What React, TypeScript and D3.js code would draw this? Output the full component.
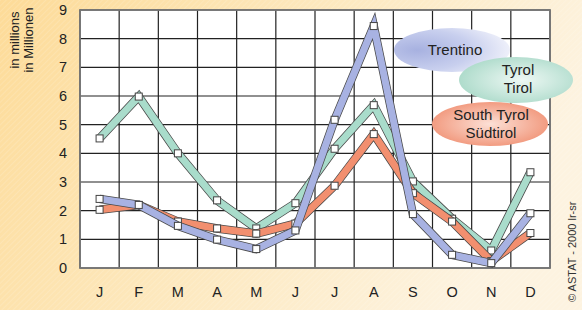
import React from 'react';
import * as d3 from 'd3';

const months = ['J', 'F', 'M', 'A', 'M', 'J', 'J', 'A', 'S', 'O', 'N', 'D'];
const yTicks = [0, 1, 2, 3, 4, 5, 6, 7, 8, 9];

// visitor nights, millions
const tyrol = [4.52, 5.98, 4.0, 2.36, 1.38, 2.26, 4.16, 5.68, 3.02, 1.72, 0.61, 3.34];
const southTyrol = [2.03, 2.2, 1.62, 1.38, 1.2, 1.55, 2.87, 4.67, 2.61, 1.62, 0.24, 1.22];
const trentino = [2.41, 2.2, 1.47, 0.99, 0.66, 1.31, 5.17, 8.44, 1.88, 0.46, 0.17, 1.91];

const seriesList = [
  {name: 'tyrol', values: tyrol, fill: '#a9dccb'},
  {name: 'south', values: southTyrol, fill: '#f28f6f'},
  {name: 'trentino', values: trentino, fill: '#a8b2e2'},
];

export default function App() {
  const W = 582;
  const H = 310;
  const left = 80, right = 550, top = 10, bottom = 268;

  const x = d3.scaleBand<number>().domain(d3.range(12)).range([left, right]);
  const y = d3.scaleLinear().domain([0, 9]).range([bottom, top]);
  const cx = (i: number) => (x(i) as number) + x.bandwidth() / 2;

  const line = d3
    .line<number>()
    .x((_, i) => cx(i))
    .y((d) => y(d));

  const font = 'Liberation Sans, Arial, sans-serif';

  return (
    <svg width={W} height={H} style={{position: 'absolute', left: 0, top: 0}}>
      <defs>
        <linearGradient id="bg" x1="0" y1="0" x2="1" y2="0.3">
          <stop offset="0" stopColor="#fddb98" />
          <stop offset="0.5" stopColor="#fde8bd" />
          <stop offset="1" stopColor="#fdf3e0" />
        </linearGradient>
        <pattern id="hatch" width="4" height="4" patternUnits="userSpaceOnUse" patternTransform="rotate(45)">
          <line x1="0" y1="0" x2="0" y2="4" stroke="#ffffff" strokeOpacity="0.18" strokeWidth="1.5" />
        </pattern>
        <radialGradient id="gTrentino" cx="0.2" cy="0.5" r="0.85">
          <stop offset="0" stopColor="#a7b1e0" />
          <stop offset="0.55" stopColor="#c8cfee" />
          <stop offset="1" stopColor="#f4f5fc" />
        </radialGradient>
        <radialGradient id="gTyrol" cx="0.55" cy="0.5" r="0.6">
          <stop offset="0" stopColor="#eef8f4" />
          <stop offset="1" stopColor="#a9d9c8" />
        </radialGradient>
        <radialGradient id="gSouth" cx="0.5" cy="0.5" r="0.6">
          <stop offset="0" stopColor="#fce0d6" />
          <stop offset="1" stopColor="#f08e70" />
        </radialGradient>
      </defs>

      <rect x={0} y={0} width={W} height={H} fill="url(#bg)" />
      <rect x={0} y={0} width={W} height={H} fill="url(#hatch)" />

      {/* plot area */}
      <rect x={left} y={top} width={right - left} height={bottom - top} fill="#ffffff" />
      {yTicks.map((t) => (
        <line key={'h' + t} x1={left} x2={right} y1={y(t)} y2={y(t)} stroke="#222" strokeWidth={1.2} />
      ))}
      {d3.range(13).map((i) => {
        const xx = i < 12 ? (x(i) as number) : right;
        return <line key={'v' + i} x1={xx} x2={xx} y1={top} y2={bottom} stroke="#222" strokeWidth={1.2} />;
      })}
      <rect x={left} y={top} width={right - left} height={bottom - top} fill="none" stroke="#777" strokeWidth={1.8} />

      {yTicks.map((t) => (
        <text key={'yl' + t} x={67} y={y(t) + 5} textAnchor="end" fontFamily={font} fontSize={14.5} fill="#222">
          {t}
        </text>
      ))}
      {months.map((m, i) => (
        <text key={'m' + i} x={cx(i)} y={297} textAnchor="middle" fontFamily={font} fontSize={14.5} fill="#222">
          {m}
        </text>
      ))}

      <g fontFamily={font} fontSize={13} fill="#222" textAnchor="middle">
        <text transform="translate(19,40) rotate(-90)">in millions</text>
        <text transform="translate(33,40) rotate(-90)">in Millionen</text>
      </g>

      {/* series ribbons */}
      {seriesList.map((s) => (
        <g key={s.name}>
          <path d={line(s.values) || ''} fill="none" stroke="#4a4a4a" strokeWidth={8.5} strokeLinejoin="miter" />
          <path d={line(s.values) || ''} fill="none" stroke={s.fill} strokeWidth={7} strokeLinejoin="miter" />
          {s.values.map((v, i) => (
            <rect key={i} x={cx(i) - 3.5} y={y(v) - 3.5} width={7} height={7} fill="#fff" stroke="#444" strokeWidth={1} />
          ))}
        </g>
      ))}

      {/* legend */}
      <g fontFamily={font} fontSize={15} fill="#222" textAnchor="middle">
        <ellipse cx={452} cy={50} rx={58} ry={22} fill="url(#gTrentino)" />
        <text x={455} y={55}>Trentino</text>
        <ellipse cx={516} cy={80} rx={57} ry={23} fill="url(#gTyrol)" />
        <text x={518} y={75}>Tyrol</text>
        <text x={518} y={93}>Tirol</text>
        <ellipse cx={490} cy={124} rx={58} ry={22} fill="url(#gSouth)" />
        <text x={491} y={120}>South Tyrol</text>
        <text x={491} y={138}>Südtirol</text>
      </g>

      <text transform="translate(576,302) rotate(-90)" fontFamily={font} fontSize={11} fill="#333">
        © ASTAT - 2000 lr-sr
      </text>
    </svg>
  );
}
